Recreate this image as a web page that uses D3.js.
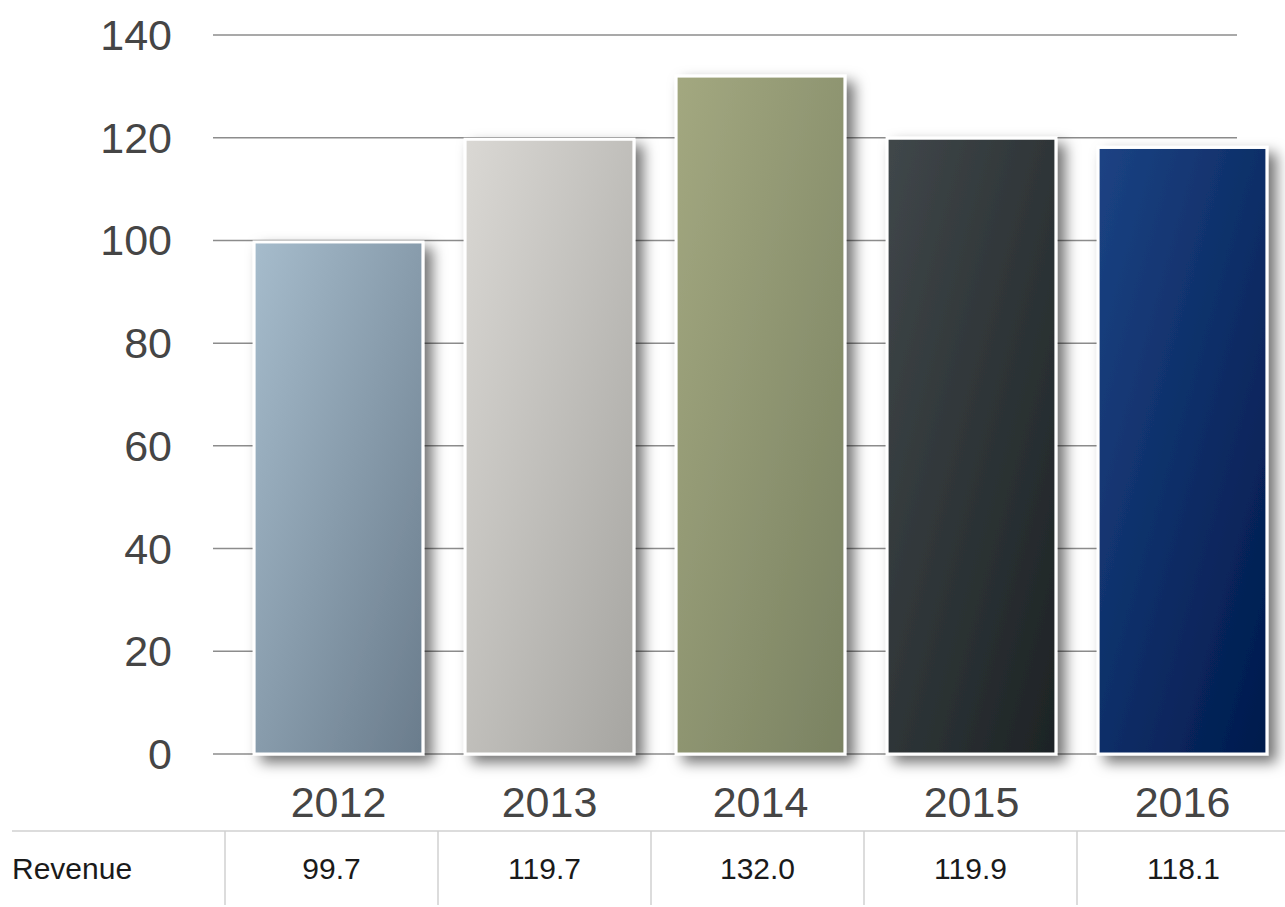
<!DOCTYPE html>
<meta charset="utf-8">
<style>
body { margin: 0; background: #fff; }
svg text { font-family: 'Liberation Sans', Arial, sans-serif; }
.grid line { stroke: #8c8c8c; stroke-width: 1.5px; }
.ytick { font-size: 43px; fill: #454545; }
.xtick { font-size: 43px; fill: #454545; }
.cell { font-size: 30px; fill: #1a1a1a; }
.table line { stroke: #d0d0d0; stroke-width: 1.5px; }
.bars rect { stroke: #fff; stroke-width: 3px; }
</style>
<body>
<svg width="1285" height="907"></svg>
<script src="https://d3js.org/d3.v7.min.js"></script>
<script>

var years = ["2012", "2013", "2014", "2015", "2016"];
var revenue = [99.7, 119.7, 132.0, 119.9, 118.1];
var revenueLabels = ["99.7", "119.7", "132.0", "119.9", "118.1"];
var yTicks = [0, 20, 40, 60, 80, 100, 120, 140];
var rowName = "Revenue";

// light top-left / dark bottom-right
var barColors = [
  ["#a6bccc", "#6a7c8c"],
  ["#dad8d4", "#a6a5a1"],
  ["#a3a880", "#7a8262"],
  ["#40474a", "#1d2325"],
  ["#1c4384", "#001a4c"]
];

var svg = d3.select("svg");

var y = d3.scaleLinear().domain([0, 140]).range([754, 35]);
var x = d3.scaleBand().domain(years).range([233, 1288])
    .paddingInner(0.2).paddingOuter(0.1);

var defs = svg.append("defs");

defs.append("filter")
    .attr("id", "shadow")
    .attr("x", "-20%").attr("y", "-20%")
    .attr("width", "160%").attr("height", "160%")
  .append("feDropShadow")
    .attr("dx", 8).attr("dy", 7)
    .attr("stdDeviation", 7)
    .attr("flood-color", "#000")
    .attr("flood-opacity", 0.55);

barColors.forEach(function(c, i) {
  var g = defs.append("linearGradient")
      .attr("id", "grad" + i)
      .attr("x1", "0%").attr("y1", "0%")
      .attr("x2", "100%").attr("y2", "100%");
  g.append("stop").attr("offset", "0%").attr("stop-color", c[0]);
  g.append("stop").attr("offset", "100%").attr("stop-color", c[1]);
});

// gridlines
svg.append("g")
    .attr("class", "grid")
  .selectAll("line")
  .data(yTicks)
  .enter().append("line")
    .attr("x1", 213)
    .attr("x2", 1237)
    .attr("y1", function(d) { return y(d); })
    .attr("y2", function(d) { return y(d); });

svg.append("g")
  .selectAll("text")
  .data(yTicks)
  .enter().append("text")
    .attr("class", "ytick")
    .attr("x", 172)
    .attr("y", function(d) { return y(d); })
    .attr("dy", "0.35em")
    .attr("text-anchor", "end")
    .text(function(d) { return d; });

// bars
svg.append("g")
    .attr("class", "bars")
  .selectAll("rect")
  .data(revenue)
  .enter().append("rect")
    .attr("x", function(d, i) { return x(years[i]); })
    .attr("y", function(d) { return y(d); })
    .attr("width", x.bandwidth())
    .attr("height", function(d) { return y(0) - y(d); })
    .attr("fill", function(d, i) { return "url(#grad" + i + ")"; })
    .attr("filter", "url(#shadow)");

svg.append("g")
  .selectAll("text")
  .data(years)
  .enter().append("text")
    .attr("class", "xtick")
    .attr("x", function(d) { return x(d) + x.bandwidth() / 2; })
    .attr("y", 817)
    .attr("text-anchor", "middle")
    .text(function(d) { return d; });

// data table
var colW = 213, firstCol = 225, tableTop = 831, tableBottom = 905;
var table = svg.append("g").attr("class", "table");

table.append("line")
    .attr("x1", 12).attr("x2", 1285)
    .attr("y1", tableTop).attr("y2", tableTop);

table.selectAll("line.sep")
  .data(years)
  .enter().append("line")
    .attr("class", "sep")
    .attr("x1", function(d, i) { return firstCol + i * colW; })
    .attr("x2", function(d, i) { return firstCol + i * colW; })
    .attr("y1", tableTop).attr("y2", tableBottom);

table.append("text")
    .attr("class", "cell")
    .attr("x", 12)
    .attr("y", 879)
    .text(rowName);

table.selectAll("text.val")
  .data(revenueLabels)
  .enter().append("text")
    .attr("class", "cell val")
    .attr("x", function(d, i) { return firstCol + i * colW + colW / 2; })
    .attr("y", 879)
    .attr("text-anchor", "middle")
    .text(function(d) { return d; });

</script>
</body>
